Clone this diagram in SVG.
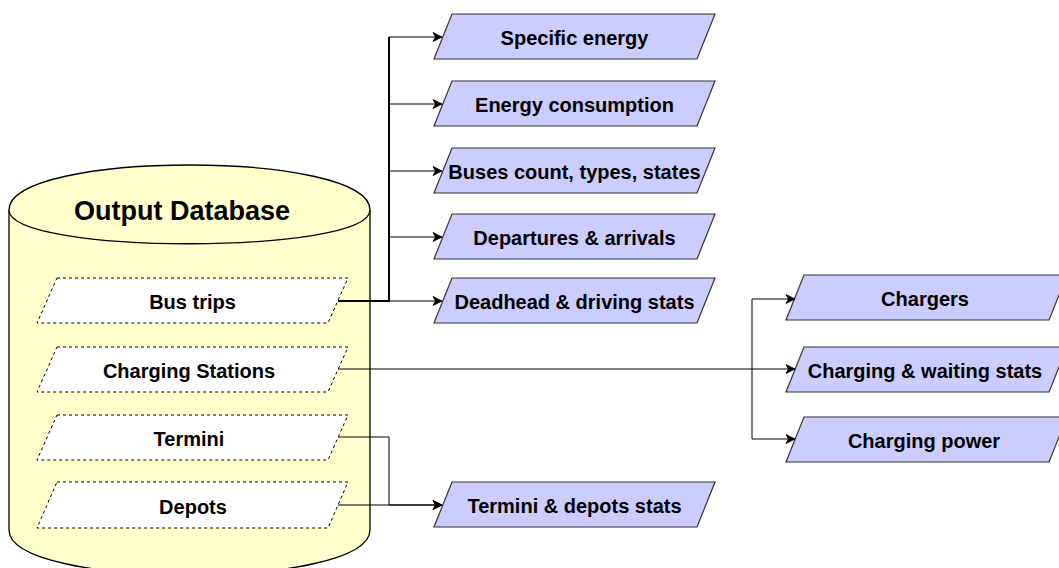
<svg xmlns="http://www.w3.org/2000/svg" width="1059" height="568" viewBox="0 0 1059 568">
  <style>
    .db { fill: #ffffcc; stroke: #000; stroke-width: 1.3; }
    .table { fill: #fff; stroke: #000; stroke-width: 1; stroke-dasharray: 3 3; }
    .out { fill: #ccccff; stroke: #333; stroke-width: 1.2; }
    .lbl { font-family: "Liberation Sans", Arial, Helvetica, sans-serif; font-weight: bold; font-size: 20px; fill: #000; text-anchor: middle; }
    .title { font-size: 27px; }
    .edge { fill: none; stroke: #000; stroke-width: 1; }
    .shared { fill: none; stroke: #000; stroke-width: 2; }
  </style>
  <defs>
    <marker id="arrow" markerUnits="userSpaceOnUse" markerWidth="12" markerHeight="10" viewBox="-10 -5 12 10" refX="0" refY="0" orient="auto">
      <path d="M-9,-4.5 L0,0 L-9,4.5 L-6.5,0 Z" fill="#000" stroke="#000" stroke-width="0.8"/>
    </marker>
  </defs>

  <!-- database cylinder with its tables -->
  <g id="output-database">
    <path class="db" d="M9,210 C9,150 370,150 370,210 L370,530 C370,590 9,590 9,530 Z"/>
    <path class="db" fill="none" d="M9,210 C9,255 370,255 370,210"/>
    <text class="lbl title" x="182" y="220">Output Database</text>
  </g>
  <g id="bus-trips">
    <polygon class="table" points="57,278 348,278 328,323 37,323"/>
    <text class="lbl" x="192.5" y="309">Bus trips</text>
  </g>
  <g id="charging-stations">
    <polygon class="table" points="57,347 348,347 328,392 37,392"/>
    <text class="lbl" x="189" y="378">Charging Stations</text>
  </g>
  <g id="termini">
    <polygon class="table" points="57,415 348,415 328,460 37,460"/>
    <text class="lbl" x="189" y="446">Termini</text>
  </g>
  <g id="depots">
    <polygon class="table" points="57,482 348,482 328,528 37,528"/>
    <text class="lbl" x="193" y="513.5">Depots</text>
  </g>

  <!-- bus trip outputs -->
  <g id="specific-energy">
    <polygon class="out" points="452,14 715,14 697,59 434,59"/>
    <text class="lbl" x="574.5" y="45">Specific energy</text>
  </g>
  <g id="energy-consumption">
    <polygon class="out" points="452,81 715,81 697,126 434,126"/>
    <text class="lbl" x="574.5" y="112">Energy consumption</text>
  </g>
  <g id="buses-count">
    <polygon class="out" points="452,148 715,148 697,193 434,193"/>
    <text class="lbl" x="574.5" y="179">Buses count, types, states</text>
  </g>
  <g id="departures-arrivals">
    <polygon class="out" points="452,214 715,214 697,259 434,259"/>
    <text class="lbl" x="574.5" y="245">Departures &amp; arrivals</text>
  </g>
  <g id="deadhead-driving">
    <polygon class="out" points="452,278 715,278 697,323 434,323"/>
    <text class="lbl" x="574.5" y="309">Deadhead &amp; driving stats</text>
  </g>
  <g id="termini-depots-stats">
    <polygon class="out" points="452,482 715,482 697,527 434,527"/>
    <text class="lbl" x="574.5" y="513">Termini &amp; depots stats</text>
  </g>

  <!-- charging station outputs -->
  <g id="chargers">
    <polygon class="out" points="804,275 1067,275 1049,320 786,320"/>
    <text class="lbl" x="925" y="306">Chargers</text>
  </g>
  <g id="charging-waiting">
    <polygon class="out" points="804,347 1067,347 1049,392 786,392"/>
    <text class="lbl" x="925" y="378">Charging &amp; waiting stats</text>
  </g>
  <g id="charging-power">
    <polygon class="out" points="804,417 1067,417 1049,462 786,462"/>
    <text class="lbl" x="924" y="448">Charging power</text>
  </g>

  <!-- connectors -->
  <g id="connectors">
    <path class="shared" d="M338,301 H389 V37"/>
    <path class="edge" d="M389,37 H442" marker-end="url(#arrow)"/>
    <path class="edge" d="M389,104 H442" marker-end="url(#arrow)"/>
    <path class="edge" d="M389,171 H442" marker-end="url(#arrow)"/>
    <path class="edge" d="M389,237 H442" marker-end="url(#arrow)"/>
    <path class="edge" d="M389,301 H442" marker-end="url(#arrow)"/>

    <path class="edge" d="M338,369 H795" marker-end="url(#arrow)"/>
    <path class="edge" d="M752,369 V299 H795" marker-end="url(#arrow)"/>
    <path class="edge" d="M752,369 V439 H795" marker-end="url(#arrow)"/>

    <path class="edge" d="M338,437 H389 V505 H442" marker-end="url(#arrow)"/>
    <path class="edge" d="M338,505 H442" marker-end="url(#arrow)"/>
  </g>
</svg>
